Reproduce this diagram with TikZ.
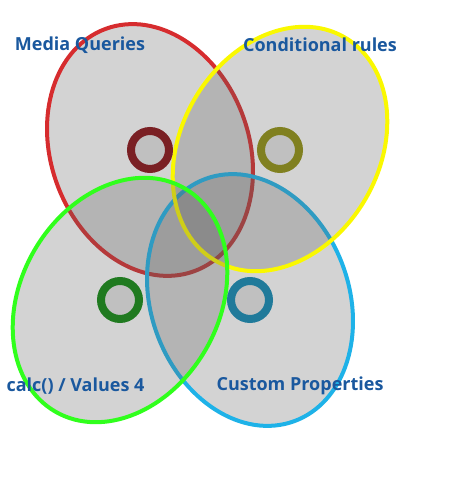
\documentclass[tikz,border=0pt]{standalone}
\usepackage{fontspec}
\setmainfont{Open Sans}
\usepackage{tikz}
\usetikzlibrary{shapes}
\definecolor{setfill}{RGB}{94,94,94}
\definecolor{ringfill}{RGB}{192,192,192}
\definecolor{mqred}{RGB}{214,44,46}
\definecolor{cryellow}{RGB}{250,248,0}
\definecolor{cvgreen}{RGB}{48,255,28}
\definecolor{cpblue}{RGB}{30,178,232}
\definecolor{mqring}{RGB}{122,32,36}
\definecolor{crring}{RGB}{128,128,32}
\definecolor{cvring}{RGB}{32,122,32}
\definecolor{cpring}{RGB}{32,122,154}
\definecolor{labelblue}{RGB}{26,88,158}
\tikzstyle{set} = [line width=4pt, fill=setfill, fill opacity=0.27, draw opacity=1]
\tikzstyle{ring} = [draw, circle, line width=8pt, fill=ringfill, minimum size=38pt, inner sep=0pt]
\tikzstyle{setlabel} = [text=labelblue, font=\bfseries\fontsize{18}{21}\selectfont, inner sep=0pt]

\begin{document}
\begin{tikzpicture}[x=1pt, y=1pt]
\useasboundingbox (0,0) rectangle (450,500);

% the four sets
\draw [set, draw=mqred, rotate around={20:(150,350)}] (150,350) ellipse (99 and 129);
\draw [set, draw=cpblue, rotate around={20:(250,200)}] (250,200) ellipse (99 and 129);
\draw [set, draw=cryellow, rotate around={-30:(280,351)}] (280,351) ellipse (99 and 129);
\draw [set, draw=cvgreen, rotate around={-30:(120,200)}] (120,200) ellipse (99 and 129);

% markers
\node [ring, draw=mqring] (mq) at (150,350) {};
\node [ring, draw=crring] (cr) at (280,350) {};
\node [ring, draw=cvring] (cv) at (120,200) {};
\node [ring, draw=cpring] (cp) at (250,200) {};

% labels
\node [setlabel] (mqlabel) at (80,455) {Media Queries};
\node [setlabel] (crlabel) at (320,455) {Conditional rules};
\node [setlabel] (cvlabel) at (75.5,114) {calc() / Values 4};
\node [setlabel] (cplabel) at (300,114) {Custom Properties};

\end{tikzpicture}
\end{document}
